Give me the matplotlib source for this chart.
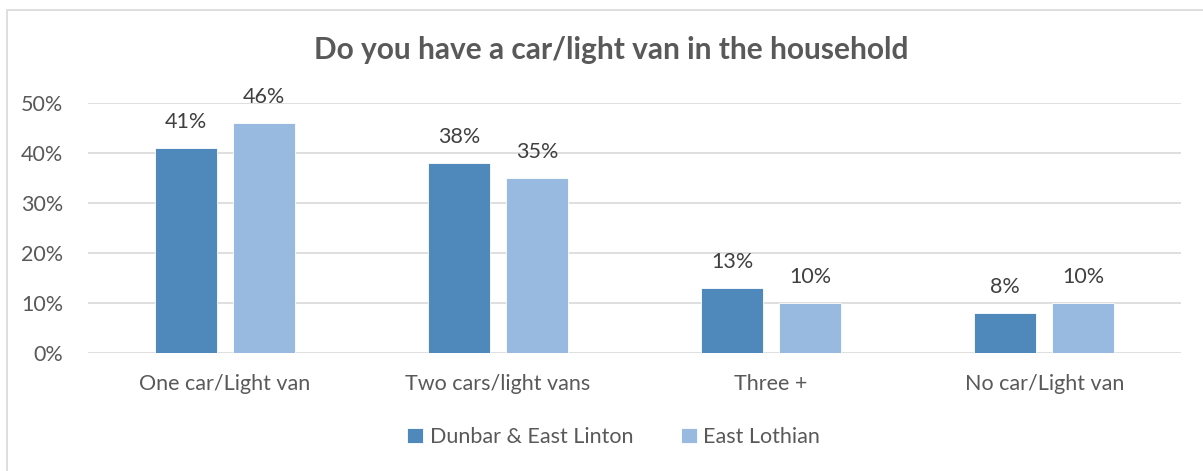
import numpy as np
import matplotlib.pyplot as plt
from matplotlib.patches import Rectangle

# Car / light van ownership shares
categories = ["One car/Light van", "Two cars/light vans", "Three +", "No car/Light van"]
dunbar = [41, 38, 13, 8]
east_lothian = [46, 35, 10, 10]
series_names = ["Dunbar & East Linton", "East Lothian"]
yticks = [0, 10, 20, 30, 40, 50]

DARK = "#4F88BB"
LIGHT = "#98B9E0"
TEXT = "#595959"
GRID = "#D9D9D9"

plt.rcParams['font.family'] = ['Lato', 'DejaVu Sans']

fig = plt.figure(figsize=(12.03, 4.71), dpi=100)
ax = fig.add_axes([0.0732, 0.2505, 0.9085, 0.5308])

x = np.arange(len(categories))
w = 0.227
off = 0.143
b1 = ax.bar(x - off, dunbar, w, color=DARK, edgecolor="white", linewidth=0.6,
            label=series_names[0], zorder=3)
b2 = ax.bar(x + off, east_lothian, w, color=LIGHT, edgecolor="white", linewidth=0.6,
            label=series_names[1], zorder=3)

for bars, vals in ((b1, dunbar), (b2, east_lothian)):
    for r, v in zip(bars, vals):
        ax.text(r.get_x() + r.get_width() / 2, v + 5.2, f"{v}%", ha="center",
                va="center", fontsize=15.5, color="#404040")

ax.set_xlim(-0.5, len(categories) - 0.5)
ax.set_ylim(0, 50)
ax.set_yticks(yticks)
ax.set_yticklabels([f"{t}%" for t in yticks])
ax.set_xticks(x)
ax.set_xticklabels(categories)
ax.tick_params(axis="both", length=0, labelsize=15.5, colors=TEXT)
ax.tick_params(axis="y", pad=18)
ax.tick_params(axis="x", pad=15)
ax.grid(axis="y", color=GRID, linewidth=1.2, zorder=0)
for s in ax.spines.values():
    s.set_visible(False)

fig.text(0.508, 0.893, "Do you have a car/light van in the household", ha="center",
         va="center", fontsize=21.5, fontweight="bold", color=TEXT)

fig.legend(loc="center", bbox_to_anchor=(0.51, 0.072), ncol=2, frameon=False,
           fontsize=15.5, labelcolor=TEXT, handlelength=0.75, handleheight=0.75,
           handletextpad=0.3, columnspacing=2.2)

# Chart area border
fig.patches.append(Rectangle((7 / 1203, -0.05), 1.1, 1 - 10 / 471 + 0.05,
                             transform=fig.transFigure, fill=False,
                             edgecolor=GRID, linewidth=1.2))

fig.savefig("out.png", dpi=100)
